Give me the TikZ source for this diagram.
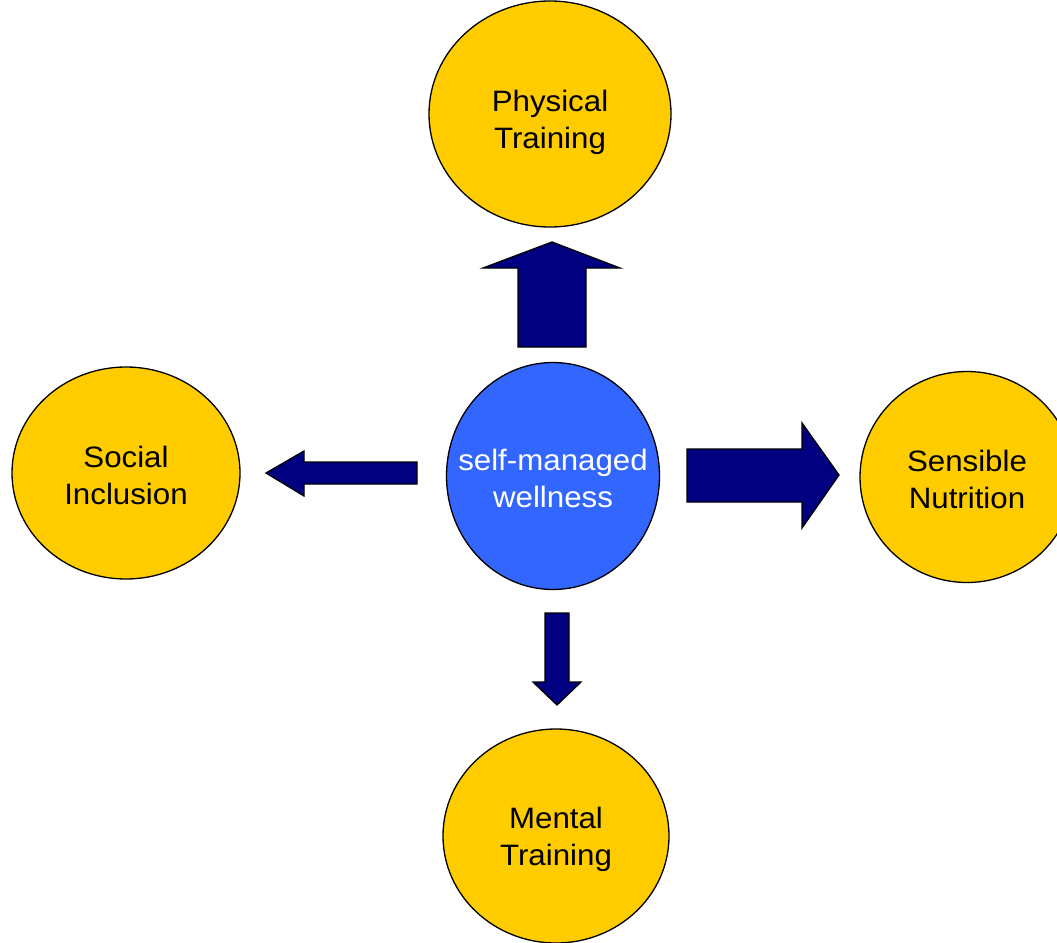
\documentclass[tikz,border=0pt]{standalone}
\usepackage{fontspec}
\setmainfont{Liberation Sans}[FakeStretch=1.06]
\usetikzlibrary{shapes.geometric}
\definecolor{gold}{HTML}{FFCC00}
\definecolor{centreblue}{HTML}{3366FF}
\definecolor{navy}{HTML}{000080}
\begin{document}
\begin{tikzpicture}[x=1pt,y=-1pt,
  bubble/.style={ellipse,draw=black,line width=1.3pt,fill=gold,inner sep=0pt},
  bubbletext/.style={align=center,inner sep=0pt,font=\fontsize{29.5}{37}\selectfont,yshift=-3pt},
  blockarrow/.style={fill=navy,draw=black,line width=1.3pt,line join=miter}]
\useasboundingbox (0,0) rectangle (1057,942);
\clip (0,0) rectangle (1057,942);
% ellipses
\node[bubble,minimum width=242,minimum height=226] (phys) at (550,114) {};
\node[bubble,minimum width=228,minimum height=212] (soc) at (126,473) {};
\node[bubble,minimum width=214,minimum height=211] (nut) at (967,477) {};
\node[bubble,minimum width=226,minimum height=214] (ment) at (556,836) {};
\node[bubble,fill=centreblue,minimum width=213,minimum height=227] (core) at (553,476) {};
% texts
\node[bubbletext,yshift=-5pt] (physT) at (phys) {Physical\\Training};
\node[bubbletext,yshift=1pt] (socT) at (soc) {Social\\Inclusion};
\node[bubbletext,yshift=1pt] (nutT) at (nut) {Sensible\\Nutrition};
\node[bubbletext] (mentT) at (ment) {Mental\\Training};
\node[bubbletext,text=white,yshift=1pt] (coreT) at (core) {self-managed\\wellness};
% up arrow
\draw[blockarrow] (518,347) -- (518,268) -- (483,268) -- (552,242) -- (620,268) -- (586,268) -- (586,347) -- cycle;
% left arrow
\draw[blockarrow] (417,462) -- (304,462) -- (304,451) -- (266,473) -- (304,496) -- (304,484) -- (417,484) -- cycle;
% right arrow
\draw[blockarrow] (687,449) -- (802,449) -- (802,423) -- (839,475) -- (802,528) -- (802,502) -- (687,502) -- cycle;
% down arrow
\draw[blockarrow] (545,613) -- (569,613) -- (569,682) -- (581,682) -- (557,705) -- (533,682) -- (545,682) -- cycle;
\end{tikzpicture}
\end{document}
